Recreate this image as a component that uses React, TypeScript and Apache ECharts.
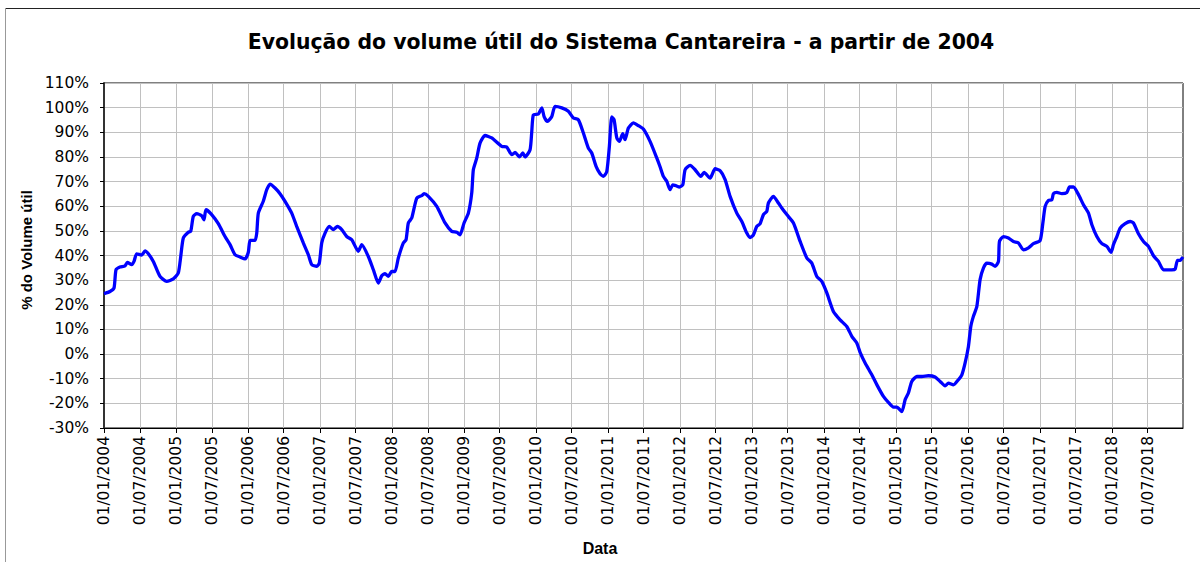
import React, { useEffect, useRef } from "react";
import * as echarts from "echarts";

// Decimal year of each reading (2004.0 = 01/01/2004)
const years: number[] = [
  2004.0, 2004.083, 2004.139, 2004.167, 2004.222, 2004.292, 2004.324, 2004.385, 2004.417, 2004.454,
  2004.524, 2004.57, 2004.616, 2004.685, 2004.778, 2004.871, 2004.963, 2005.032, 2005.066, 2005.102,
  2005.171, 2005.205, 2005.241, 2005.288, 2005.357, 2005.389, 2005.417, 2005.496, 2005.588, 2005.681,
  2005.751, 2005.82, 2005.89, 2005.959, 2006.005, 2006.029, 2006.098, 2006.122, 2006.144, 2006.213,
  2006.261, 2006.307, 2006.376, 2006.445, 2006.515, 2006.608, 2006.677, 2006.769, 2006.839, 2006.886,
  2006.955, 2006.991, 2007.025, 2007.071, 2007.13, 2007.186, 2007.242, 2007.303, 2007.372, 2007.442,
  2007.533, 2007.581, 2007.672, 2007.742, 2007.811, 2007.859, 2007.904, 2007.95, 2007.997, 2008.043,
  2008.089, 2008.159, 2008.196, 2008.228, 2008.275, 2008.345, 2008.414, 2008.446, 2008.506, 2008.623,
  2008.738, 2008.831, 2008.901, 2008.946, 2009.002, 2009.062, 2009.109, 2009.131, 2009.179, 2009.224,
  2009.294, 2009.387, 2009.526, 2009.595, 2009.665, 2009.711, 2009.771, 2009.818, 2009.85, 2009.919,
  2009.943, 2009.965, 2010.034, 2010.082, 2010.114, 2010.16, 2010.221, 2010.266, 2010.36, 2010.451,
  2010.521, 2010.59, 2010.66, 2010.729, 2010.776, 2010.836, 2010.892, 2010.938, 2010.985, 2011.021,
  2011.054, 2011.086, 2011.124, 2011.16, 2011.207, 2011.239, 2011.285, 2011.354, 2011.424, 2011.493,
  2011.586, 2011.679, 2011.725, 2011.771, 2011.818, 2011.864, 2011.902, 2011.948, 2011.994, 2012.041,
  2012.073, 2012.143, 2012.212, 2012.291, 2012.337, 2012.42, 2012.49, 2012.559, 2012.629, 2012.698,
  2012.791, 2012.861, 2012.93, 2012.976, 2013.022, 2013.069, 2013.115, 2013.161, 2013.208, 2013.23,
  2013.3, 2013.369, 2013.416, 2013.486, 2013.578, 2013.671, 2013.764, 2013.833, 2013.903, 2013.972,
  2014.042, 2014.133, 2014.226, 2014.319, 2014.389, 2014.458, 2014.504, 2014.574, 2014.667, 2014.736,
  2014.828, 2014.897, 2014.967, 2015.014, 2015.084, 2015.13, 2015.175, 2015.222, 2015.292, 2015.362,
  2015.453, 2015.546, 2015.616, 2015.685, 2015.731, 2015.801, 2015.87, 2015.918, 2015.963, 2016.009,
  2016.042, 2016.078, 2016.126, 2016.171, 2016.217, 2016.265, 2016.334, 2016.38, 2016.426, 2016.44,
  2016.495, 2016.565, 2016.634, 2016.704, 2016.773, 2016.843, 2016.912, 2017.005, 2017.043, 2017.075,
  2017.121, 2017.168, 2017.19, 2017.238, 2017.307, 2017.377, 2017.413, 2017.468, 2017.538, 2017.607,
  2017.677, 2017.724, 2017.793, 2017.863, 2017.932, 2017.992, 2018.024, 2018.071, 2018.117, 2018.186,
  2018.256, 2018.302, 2018.371, 2018.441, 2018.51, 2018.58, 2018.649, 2018.719, 2018.836, 2018.881,
  2018.913, 2018.951, 2018.988,
];

// % do volume útil
const volume: number[] = [
  24.5, 25.4, 26.8, 34.2, 35.3, 35.8, 37.2, 36.3, 37.6, 40.7,
  40.2, 41.9, 40.7, 37.6, 31.5, 29.5, 30.5, 32.9, 39.6, 47.1,
  49.4, 49.8, 55.9, 57.0, 56.1, 54.5, 58.6, 56.6, 52.9, 47.7,
  44.4, 40.3, 39.4, 38.6, 41.3, 46.1, 46.1, 49.1, 57.2, 62.0,
  66.7, 69.0, 67.4, 65.1, 62.0, 57.2, 51.8, 45.1, 40.3, 36.3,
  35.6, 36.9, 45.1, 49.1, 51.8, 50.5, 51.8, 50.5, 47.7, 46.4,
  41.7, 44.4, 39.6, 34.2, 28.8, 31.8, 32.6, 31.5, 33.5, 33.5,
  39.0, 45.1, 46.4, 53.2, 55.2, 63.3, 64.3, 65.1, 64.0, 59.9,
  53.2, 49.8, 49.4, 48.4, 53.2, 57.2, 65.4, 74.8, 79.6, 85.6,
  88.7, 87.7, 84.3, 84.0, 80.9, 81.8, 80.0, 81.6, 80.0, 82.9,
  90.4, 97.1, 97.4, 99.9, 96.4, 94.4, 96.4, 100.5, 99.9, 98.5,
  95.8, 95.1, 89.7, 83.6, 81.6, 76.2, 73.2, 72.1, 74.1, 84.3,
  96.2, 95.1, 87.7, 86.3, 89.4, 87.0, 91.7, 93.8, 92.7, 91.3,
  86.3, 79.6, 76.0, 72.1, 70.1, 66.7, 68.7, 68.3, 67.8, 68.7,
  74.8, 76.6, 74.8, 72.1, 73.7, 71.4, 75.2, 74.4, 70.8, 64.0,
  57.2, 53.8, 49.1, 47.3, 48.4, 51.8, 52.9, 56.6, 57.9, 61.3,
  64.0, 61.3, 59.3, 56.6, 53.2, 45.7, 39.0, 36.9, 31.5, 29.5,
  24.8, 17.3, 13.9, 11.2, 7.2, 4.5, 0.7, -3.6, -8.4, -12.4,
  -17.2, -19.6, -21.5, -21.5, -23.3, -18.5, -15.8, -11.1, -9.1, -9.1,
  -8.8, -9.3, -11.1, -12.9, -11.8, -12.5, -10.4, -8.4, -3.6, 3.1,
  11.2, 15.3, 19.3, 30.2, 34.9, 36.9, 36.5, 35.6, 37.6, 45.7,
  47.7, 47.1, 45.7, 45.1, 42.3, 43.1, 44.8, 46.1, 53.2, 59.9,
  62.4, 62.6, 65.1, 65.6, 65.1, 65.6, 67.8, 67.8, 64.7, 60.6,
  57.2, 52.5, 47.7, 44.8, 43.7, 41.3, 44.4, 47.7, 51.1, 52.9,
  53.8, 53.2, 48.8, 45.7, 43.7, 39.9, 37.6, 34.2, 34.2, 34.5,
  38.0, 38.0, 39.4,
];

// Tick labels: first day of January and July, 2004 – 2018
const tickYears: number[] = [2004, 2005, 2006, 2007, 2008, 2009, 2010, 2011, 2012, 2013, 2014, 2015, 2016, 2017, 2018];
const tickMonths: number[] = [0, 6];

const yMin = -30;
const yMax = 110;
const yStep = 10;
const xStartYear = 2004.0;
const xEndYear = 2018.99;

const DAY = 86400000;
const t0 = Date.UTC(2004, 0, 1);
const yearToTime = (y: number) => t0 + (y - 2004) * 365.25 * DAY;

const pad = (n: number) => (n < 10 ? "0" + n : "" + n);
const fmtDate = (v: number) => {
  const d = new Date(v);
  return pad(d.getUTCDate()) + "/" + pad(d.getUTCMonth() + 1) + "/" + d.getUTCFullYear();
};

export default function App() {
  const ref = useRef<HTMLDivElement>(null);
  useEffect(() => {
    if (!ref.current) return;
    const chart = echarts.init(ref.current, undefined, { renderer: "svg" });
    const tickValues: number[] = [];
    tickYears.forEach((y) => tickMonths.forEach((m) => tickValues.push(Date.UTC(y, m, 1))));
    const seriesData = years.map((y, i) => [yearToTime(y), volume[i]]);
    const regular = "DejaVu Sans";
    chart.setOption({
      animation: false,
      backgroundColor: "#ffffff",
      title: {
        text: "Evolução do volume útil do Sistema Cantareira - a partir de 2004",
        left: 616,
        top: 27,
        textAlign: "center",
        textStyle: { fontFamily: "DejaVu Sans", fontWeight: "bold", fontSize: 20.4, color: "#000" },
      },
      grid: {
        left: 104,
        right: 17,
        top: 83,
        bottom: 134,
        show: true,
        borderColor: "#000",
        borderWidth: 1,
        backgroundColor: "#fff",
      },
      xAxis: {
        type: "value",
        min: yearToTime(xStartYear),
        max: yearToTime(xEndYear),
        axisLine: { show: true, onZero: false, lineStyle: { color: "#000", width: 1 } },
        axisTick: { show: true, inside: false, length: 5, customValues: tickValues, lineStyle: { color: "#000" } },
        axisLabel: {
          customValues: tickValues,
          rotate: 90,
          margin: 8,
          formatter: (v: number) => fmtDate(v),
          fontFamily: regular,
          fontSize: 15.5,
          color: "#000",
          showMinLabel: true,
          showMaxLabel: true,
        },
        splitLine: { show: true, lineStyle: { color: "#c0c0c0", width: 1 } },
      },
      yAxis: {
        type: "value",
        min: yMin,
        max: yMax,
        interval: yStep,
        name: "% do Volume útil",
        nameLocation: "middle",
        nameGap: 63,
        nameTextStyle: {
          fontFamily: "Liberation Sans",
          fontWeight: "bold",
          fontSize: 15,
          color: "#000",
          padding: [0, 0, 0, 11],
        },
        axisLine: { show: true, onZero: false, lineStyle: { color: "#333", width: 2 } },
        axisTick: { show: true, inside: false, length: 4, lineStyle: { color: "#000" } },
        axisLabel: {
          formatter: (v: number) => v + "%",
          margin: 15,
          fontFamily: regular,
          fontSize: 15.5,
          color: "#000",
        },
        splitLine: { show: true, lineStyle: { color: "#c0c0c0", width: 1 } },
      },
      graphic: [
        { type: "line", shape: { x1: 5, y1: 8.5, x2: 1200, y2: 8.5 }, style: { stroke: "#222", lineWidth: 1 }, silent: true },
        { type: "line", shape: { x1: 5.5, y1: 8, x2: 5.5, y2: 562 }, style: { stroke: "#999", lineWidth: 1 }, silent: true },
        {
          type: "text",
          x: 600,
          y: 548,
          style: {
            text: "Data",
            fontFamily: "Liberation Sans",
            fontWeight: "bold",
            fontSize: 16,
            fill: "#000",
            align: "center",
            verticalAlign: "middle",
          },
          silent: true,
        },
      ],
      series: [
        {
          type: "line",
          data: seriesData,
          showSymbol: false,
          smooth: 0.2,
          lineStyle: { color: "#0000ff", width: 3.3 },
          itemStyle: { color: "#0000ff" },
        },
      ],
    });
    return () => chart.dispose();
  }, []);
  return <div ref={ref} style={{ position: "absolute", left: 0, top: 0, width: 1200, height: 562 }} />;
}
